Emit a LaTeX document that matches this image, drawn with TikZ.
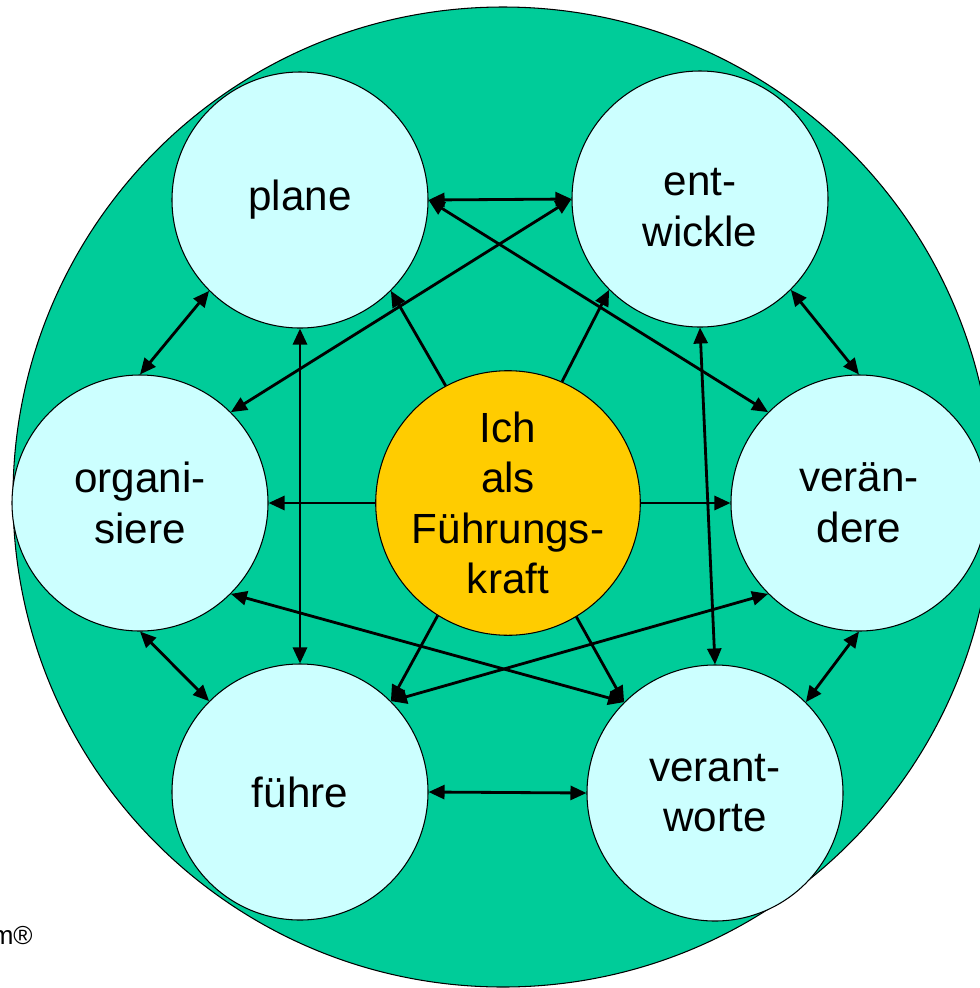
\documentclass[tikz,border=0pt]{standalone}
\usepackage{fontspec}
\setmainfont{Liberation Sans}
\usetikzlibrary{arrows.meta}
\definecolor{ringgreen}{RGB}{0,204,153}
\definecolor{ringcyan}{RGB}{204,255,255}
\definecolor{hubyellow}{RGB}{255,204,0}
\tikzset{
    ring/.style={circle, draw=black, line width=0.6pt, fill=ringcyan, minimum size=5.12cm,
        inner sep=0pt, align=center, font=\fontsize{24}{28.8}\selectfont},
    hub/.style={ring, fill=hubyellow},
    link/.style={line width=1.6pt, >={Triangle[length=3.2mm,width=2.8mm]}}
}
\begin{document}
\begin{tikzpicture}
                \useasboundingbox (0,0) rectangle (19.60,-19.76);
                \filldraw[fill=ringgreen, draw=black, line width=0.6pt] (10.06,-9.94) circle (9.80);

                \node[ring] (plane) at (6.00,-4.00) {plane};
                \node[ring] (entwickle) at (14.00,-3.98) {\rule{0pt}{0.88cm}ent-\\wickle};
                \node[ring] (organisiere) at (2.80,-10.06) {organi-\\siere};
                \node[hub] (ich) at (10.16,-10.06) {Ich\\als\\Führungs-\\kraft};
                \node[ring] (veraendere) at (17.18,-10.06) {verän-\\dere};
                \node[ring] (fuehre) at (6.00,-15.84) {führe};
                \node[ring] (verantworte) at (14.30,-15.86) {verant-\\worte};

                \node[anchor=base east, inner sep=0pt, font=\fontsize{14.8}{17}\selectfont] (mark) at (0.66,-18.88) {m®};

                % outer ring
                \draw[link,<->] (plane.0) -- (entwickle.180);
                \draw[link,<->] (plane.-135) -- (organisiere.90);
                \draw[link,<->] (entwickle.-45) -- (veraendere.90);
                \draw[link,<->] (organisiere.-90) -- (fuehre.135);
                \draw[link,<->] (veraendere.-90) -- (verantworte.45);
                \draw[link,<->] (fuehre.0) -- (verantworte.180);

                % crossings
                \draw[link,<->] (plane.-90) -- (fuehre.90);
                \draw[link,<->] (entwickle.-90) -- (verantworte.90);
                \draw[link,<->] (plane.0) -- (veraendere.135);
                \draw[link,<->] (entwickle.180) -- (organisiere.45);
                \draw[link,<->] (organisiere.-45) -- (verantworte.135);
                \draw[link,<->] (veraendere.-135) -- (fuehre.45);

                % from the centre
                \draw[link,->] (ich.118) -- (plane.-45);
                \draw[link,->] (ich.66) -- (entwickle.-135);
                \draw[link,->] (ich.180) -- (organisiere.0);
                \draw[link,->] (ich.0) -- (veraendere.180);
                \draw[link,->] (ich.-122) -- (fuehre.45);
                \draw[link,->] (ich.-59) -- (verantworte.135);
            \end{tikzpicture}
\end{document}
